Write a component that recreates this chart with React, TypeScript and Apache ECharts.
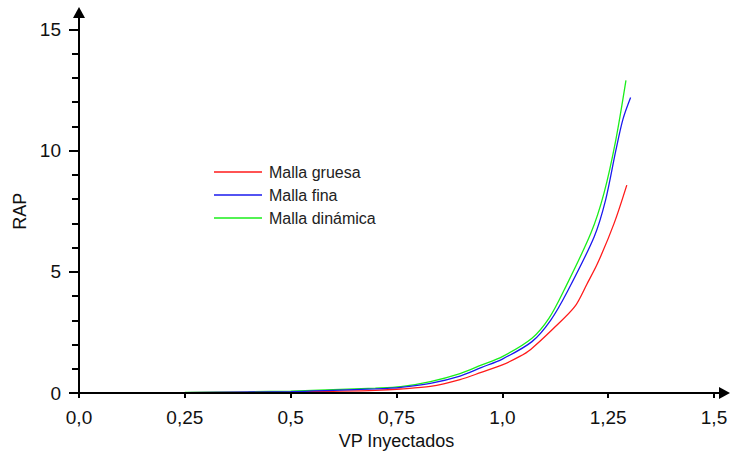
import React, { useEffect, useRef } from "react";
import * as echarts from "echarts";

const xTickLabels = ["0,0", "0,25", "0,5", "0,75", "1,0", "1,25", "1,5"];
const yTickLabels = ["0", "5", "10", "15"];

const seriesNames = ["Malla gruesa", "Malla fina", "Malla dinámica"];

const xGruesa = [0, 0.25, 0.5, 0.6, 0.7, 0.76, 0.83, 0.9, 0.95, 1.0, 1.04, 1.067, 1.12, 1.171, 1.2, 1.225, 1.264, 1.294];
const yGruesa = [0, 0.01, 0.04, 0.07, 0.11, 0.165, 0.27, 0.55, 0.85, 1.16, 1.5, 1.8, 2.65, 3.56, 4.5, 5.35, 7.0, 8.58];

const xFina = [0, 0.25, 0.5, 0.6, 0.7, 0.76, 0.83, 0.9, 0.95, 1.0, 1.07, 1.114, 1.154, 1.217, 1.244, 1.268, 1.285, 1.303];
const yFina = [0, 0.01, 0.06, 0.11, 0.17, 0.235, 0.4, 0.7, 1.05, 1.4, 2.12, 3.0, 4.2, 6.45, 7.97, 10.0, 11.3, 12.19];

const xDinamica = [0, 0.25, 0.4, 0.5, 0.6, 0.7, 0.76, 0.83, 0.9, 0.95, 1.0, 1.07, 1.11, 1.146, 1.209, 1.24, 1.268, 1.292];
const yDinamica = [0, 0.02, 0.05, 0.08, 0.14, 0.2, 0.26, 0.47, 0.8, 1.15, 1.5, 2.26, 3.08, 4.25, 6.59, 8.24, 10.44, 12.9];

const colors = ["#ff1a1a", "#1a1aee", "#1aee1a"];

const pairs = (xs: number[], ys: number[]) => xs.map((x, i) => [x, ys[i]]);

const FONT = "'Liberation Sans', Arial, sans-serif";

export default function App() {
  const ref = useRef<HTMLDivElement>(null);
  useEffect(() => {
    if (!ref.current) return;
    const chart = echarts.init(ref.current, null, { renderer: "svg" });
    const grid = { left: 79, right: 22, top: 29.5, bottom: 68 };
    const lineSeries = (i: number, xs: number[], ys: number[], z: number) => ({
      name: seriesNames[i],
      type: "line",
      data: pairs(xs, ys),
      showSymbol: false,
      smooth: 0.3,
      lineStyle: { width: 1.3, color: colors[i] },
      itemStyle: { color: colors[i] },
      z,
    });
    chart.setOption({
      animation: false,
      backgroundColor: "#ffffff",
      color: colors,
      grid: { ...grid, containLabel: false },
      legend: {
        orient: "vertical",
        left: 209,
        top: 158,
        icon: "rect",
        itemWidth: 48,
        itemHeight: 1.5,
        itemGap: 5,
        data: seriesNames,
        textStyle: { fontFamily: FONT, fontSize: 16, color: "#222", lineHeight: 18, padding: [0, 0, 0, 2] },
      },
      xAxis: {
        type: "value",
        min: 0,
        max: 1.5,
        interval: 0.25,
        name: "VP Inyectados",
        nameLocation: "middle",
        nameGap: 37,
        nameTextStyle: { fontFamily: FONT, fontSize: 18, color: "#111" },
        axisLine: { show: false },
        axisTick: { show: true, length: 5, lineStyle: { color: "#000", width: 2 } },
        splitLine: { show: false },
        axisLabel: {
          margin: 15,
          fontFamily: FONT,
          fontSize: 19,
          color: "#111",
          formatter: (v: number) => xTickLabels[Math.round(v / 0.25)] ?? "",
        },
      },
      yAxis: {
        type: "value",
        min: 0,
        max: 15,
        interval: 5,
        name: "RAP",
        nameLocation: "middle",
        nameGap: 49,
        nameTextStyle: { fontFamily: FONT, fontSize: 18, color: "#111" },
        axisLine: { show: false },
        axisTick: { show: true, length: 10, lineStyle: { color: "#000", width: 2 } },
        minorTick: { show: true, splitNumber: 5, length: 7, lineStyle: { color: "#000", width: 2 } },
        splitLine: { show: false },
        axisLabel: {
          margin: 18,
          fontFamily: FONT,
          fontSize: 19,
          color: "#111",
          formatter: (v: number) => yTickLabels[Math.round(v / 5)] ?? "",
        },
      },
      series: [
        lineSeries(0, xGruesa, yGruesa, 3),
        lineSeries(1, xFina, yFina, 4),
        lineSeries(2, xDinamica, yDinamica, 2),
      ],
    });
    const origin = chart.convertToPixel({ gridIndex: 0 }, [0, 0]) as number[];
    const yTop = chart.convertToPixel({ gridIndex: 0 }, [0, 15]) as number[];
    const xEnd = chart.convertToPixel({ gridIndex: 0 }, [1.5, 0]) as number[];
    const ox = origin[0];
    const oy = origin[1];
    const yTip = yTop[1] - 22.5;
    const xTip = xEnd[0] + 16;
    chart.setOption({
      graphic: [
        { type: "line", z: 10, shape: { x1: ox, y1: oy + 1, x2: ox, y2: yTip + 8 }, style: { stroke: "#000", lineWidth: 2 } },
        { type: "line", z: 10, shape: { x1: ox - 1, y1: oy, x2: xTip - 8, y2: oy }, style: { stroke: "#000", lineWidth: 2 } },
        { type: "polygon", z: 10, shape: { points: [[ox, yTip], [ox - 6, yTip + 11], [ox + 6, yTip + 11]] }, style: { fill: "#000" } },
        { type: "polygon", z: 10, shape: { points: [[xTip, oy], [xTip - 11, oy - 6], [xTip - 11, oy + 6]] }, style: { fill: "#000" } },
      ],
    });
    return () => chart.dispose();
  }, []);
  return <div ref={ref} style={{ position: "fixed", left: 0, top: 0, width: 736, height: 461 }} />;
}
